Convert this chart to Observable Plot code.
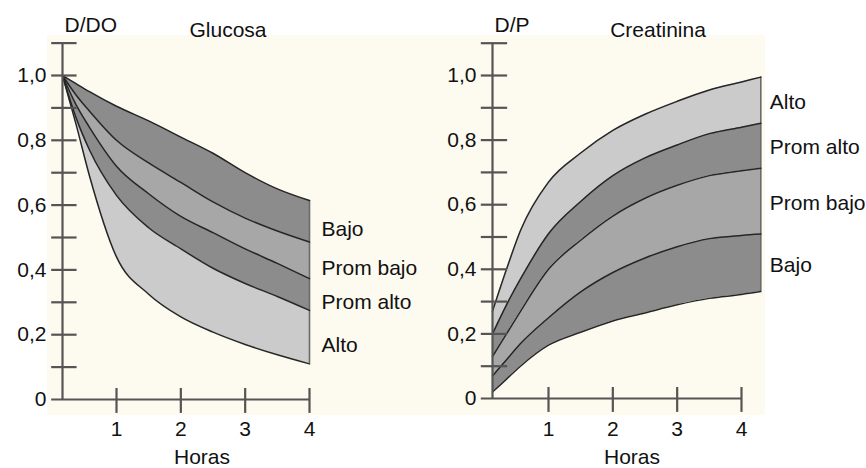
<!DOCTYPE html>
<html>
<head>
<meta charset="utf-8">
<script src="https://cdn.jsdelivr.net/npm/d3@7"></script>
<script src="https://cdn.jsdelivr.net/npm/@observablehq/plot@0.6"></script>
<style>
  html, body { margin: 0; padding: 0; background: #ffffff; }
  #chart { position: relative; width: 866px; height: 468px; overflow: hidden;
           font-family: "Liberation Sans", Arial, Helvetica, sans-serif; }
  #paper { position: absolute; left: 47px; top: 35px; width: 718px; height: 380px; background: #fdfbf0; }
  #chart svg { position: absolute; top: 0; overflow: visible; }
</style>
</head>
<body>
<div id="chart"><div id="paper"></div></div>
<script>
// Transport categories, listed from the top band to the bottom band of the glucose panel
const categories = ["Bajo", "Prom bajo", "Prom alto", "Alto"];

// Glucose D/D0 — band boundaries over time (hours)
const gluHours            = [0, 0.25, 0.5, 1, 1.5, 2, 2.5, 3, 3.5, 4];
const gluUpper            = [1.0, 0.975, 0.95, 0.905, 0.86, 0.81, 0.76, 0.70, 0.65, 0.614];
const gluBajoPromBajo     = [1.0, 0.94, 0.89, 0.80, 0.73, 0.67, 0.61, 0.56, 0.52, 0.486];
const gluPromBajoPromAlto = [1.0, 0.91, 0.84, 0.72, 0.635, 0.565, 0.515, 0.465, 0.42, 0.373];
const gluPromAltoAlto     = [1.0, 0.87, 0.77, 0.63, 0.53, 0.465, 0.405, 0.358, 0.318, 0.275];
const gluLower            = [1.0, 0.85, 0.69, 0.44, 0.325, 0.255, 0.208, 0.17, 0.138, 0.11];

// Creatinine D/P — band boundaries over time (hours)
const creHours            = [0, 0.25, 0.5, 1, 1.5, 2, 2.5, 3, 3.5, 4, 4.3];
const creUpper            = [0.27, 0.40, 0.52, 0.67, 0.76, 0.83, 0.88, 0.92, 0.955, 0.98, 0.995];
const creAltoPromAlto     = [0.20, 0.29, 0.37, 0.51, 0.61, 0.69, 0.745, 0.785, 0.82, 0.84, 0.852];
const crePromAltoPromBajo = [0.13, 0.20, 0.27, 0.40, 0.49, 0.565, 0.62, 0.66, 0.69, 0.705, 0.713];
const crePromBajoBajo     = [0.07, 0.12, 0.17, 0.25, 0.33, 0.39, 0.435, 0.47, 0.495, 0.505, 0.509];
const creLower            = [0.02, 0.06, 0.10, 0.165, 0.205, 0.24, 0.265, 0.29, 0.31, 0.322, 0.331];

// Axis ticks
const yTickLabels = [0, 0.2, 0.4, 0.6, 0.8, 1.0];
const yTickMarks  = [0.1, 0.2, 0.3, 0.4, 0.5, 0.6, 0.7, 0.8, 0.9, 1.0, 1.1];
const xTicks      = [1, 2, 3, 4];

const bandFill = {
  "Bajo": "#8c8c8c",
  "Prom bajo": "#a7a7a7",
  "Prom alto": "#8c8c8c",
  "Alto": "#cbcbcb"
};

const fmt = d => d === 0 ? "0" : d.toFixed(1).replace(".", ",");

function panel({title, yLabel, hours, bounds, bands, xRange, yRange, labelDx, labelDy, left}) {
  const n = hours.length;
  const rows = hours.map((t, i) => ({t, v: bounds.map(b => b[i])}));
  const tEnd = hours[n - 1];
  const axis = "#555555";
  const ink = "#111111";
  const marks = [];

  // filled bands, top to bottom
  bands.forEach((name, k) => {
    marks.push(Plot.areaY(rows, {
      x: "t", y1: r => r.v[k + 1], y2: r => r.v[k],
      fill: bandFill[name], curve: "monotone-x"
    }));
  });
  // closing edge at the end of the dwell
  marks.push(Plot.ruleX([rows[n - 1]], {
    x: "t", y1: r => r.v[bounds.length - 1], y2: r => r.v[0],
    stroke: "#6a6a6a", strokeWidth: 1.6
  }));
  // boundary curves
  bounds.forEach((b, k) => {
    marks.push(Plot.line(rows, {
      x: "t", y: r => r.v[k], stroke: "#262626", strokeWidth: 1.5, curve: "monotone-x"
    }));
  });

  // axes drawn as rules crossing the origin lines
  marks.push(
    Plot.ruleX([0], {y1: 0, y2: 1.1, stroke: axis, strokeWidth: 2.2}),
    Plot.ruleY([0], {x1: -0.2, x2: 4, stroke: axis, strokeWidth: 2.2}),
    Plot.ruleY(yTickMarks, {y: d => d, x1: -0.2, x2: 0.27, stroke: axis, strokeWidth: 2.2}),
    Plot.ruleX(xTicks, {x: d => d, y1: -0.043, y2: 0.034, stroke: axis, strokeWidth: 2.2}),
    Plot.text(yTickLabels, {y: d => d, text: fmt, frameAnchor: "left", textAnchor: "end", lineAnchor: "middle", dx: -16, fill: ink}),
    Plot.text(xTicks, {x: d => d, text: d => String(d), frameAnchor: "bottom", lineAnchor: "middle", dy: 30, fill: ink}),
    Plot.text(["Horas"], {frameAnchor: "bottom", lineAnchor: "middle", dx: 16, dy: 58, fill: ink}),
    Plot.text([yLabel], {frameAnchor: "top-left", lineAnchor: "middle", dx: 2, dy: -50, fill: ink}),
    Plot.text([title], {frameAnchor: "top", lineAnchor: "middle", dx: 42, dy: -45, fill: ink})
  );

  // category labels beside the end of each band
  marks.push(Plot.text(bands, {
    x: () => tEnd,
    y: (d, i) => (bounds[i][n - 1] + bounds[i + 1][n - 1]) / 2,
    text: d => d, textAnchor: "start", lineAnchor: "middle", dx: labelDx, dy: labelDy, fill: ink
  }));

  const svg = Plot.plot({
    width: 433, height: 468,
    marginLeft: 62, marginRight: 124, marginTop: 75, marginBottom: 69,
    x: {type: "linear", domain: [0, 1, 4], range: xRange},
    y: {domain: [0, 1], range: yRange},
    axis: null,
    style: {background: "transparent", fontFamily: "'Liberation Sans', Arial, Helvetica, sans-serif", fontSize: "21px", overflow: "visible"},
    marks
  });
  svg.style.left = left + "px";
  return svg;
}

const chart = document.getElementById("chart");

chart.appendChild(panel({
  title: "Glucosa", yLabel: "D/DO",
  hours: gluHours,
  bounds: [gluUpper, gluBajoPromBajo, gluPromBajoPromAlto, gluPromAltoAlto, gluLower],
  bands: categories,
  xRange: [62, 116, 309], yRange: [399, 75],
  labelDx: 12, labelDy: 8, left: 0
}));

chart.appendChild(panel({
  title: "Creatinina", yLabel: "D/P",
  hours: creHours,
  bounds: [creUpper, creAltoPromAlto, crePromAltoPromBajo, crePromBajoBajo, creLower],
  bands: [...categories].reverse(),
  xRange: [62, 118, 311], yRange: [398, 75],
  labelDx: 9, labelDy: 2, left: 430
}));
</script>
</body>
</html>
